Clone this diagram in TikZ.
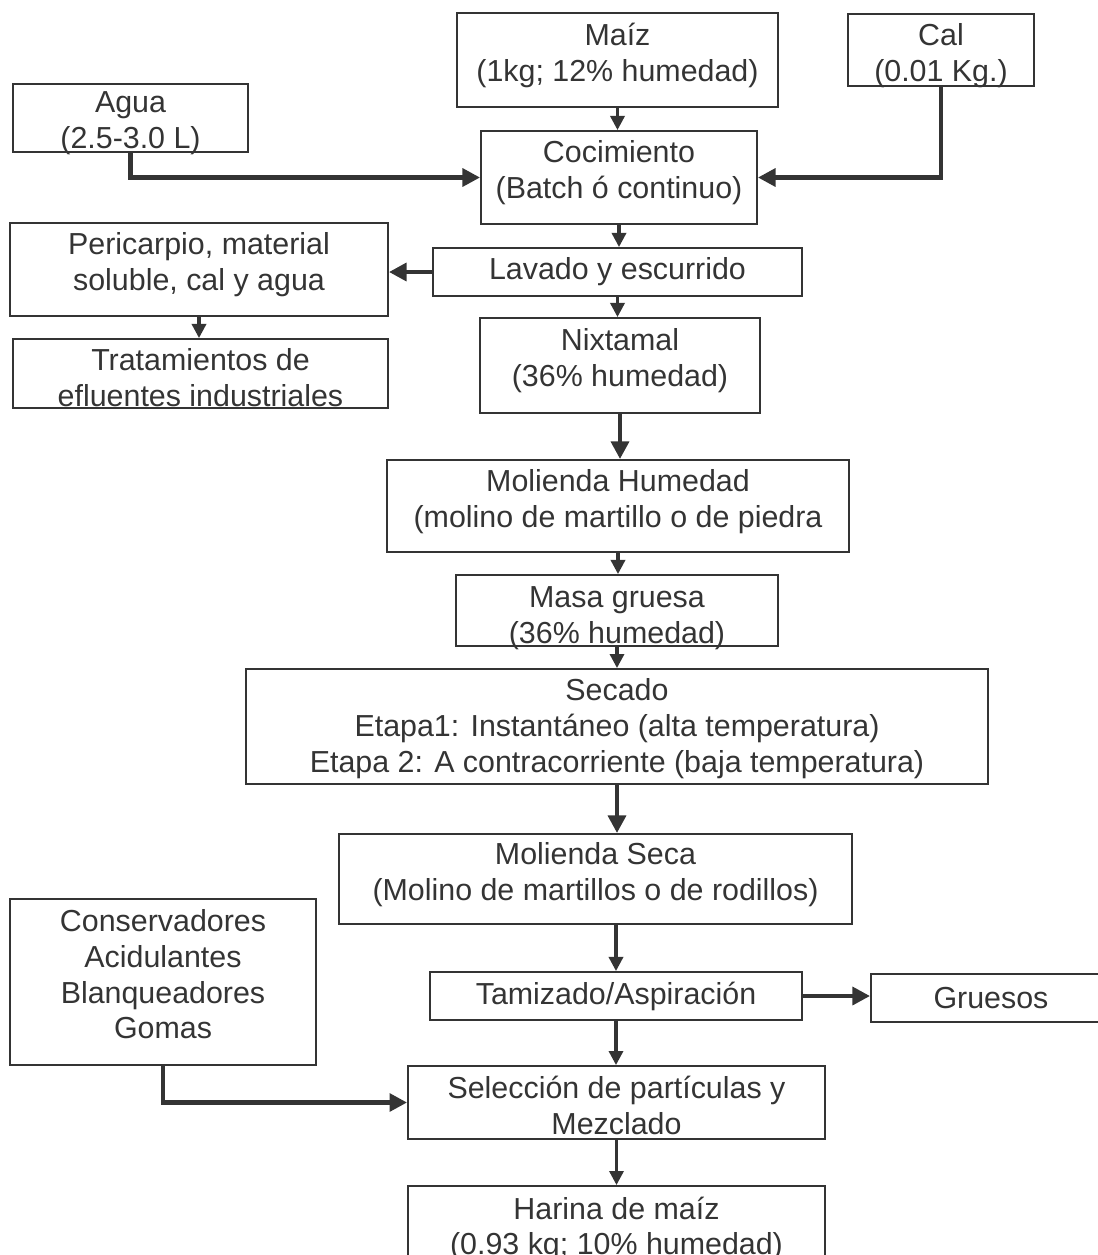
\documentclass[tikz,border=0pt]{standalone}
\usepackage{fontspec}
\setmainfont{Liberation Sans}
\usetikzlibrary{arrows.meta}

\definecolor{ink}{RGB}{52,52,52}
\newcommand{\tallline}[1]{\rule{0pt}{#1}}

\begin{document}
\begin{tikzpicture}[
    x=0.02cm, y=-0.02cm,
    stage/.style={rectangle, draw=ink, line width=1.1pt, inner sep=0pt, align=center, text=ink, font=\fontsize{17.3}{20.4}\selectfont},
    lift/.style={text depth=#1},
    flow/.style={draw=ink, line width=1.8pt, -{Triangle[length=8pt,width=8pt]}},
    feed/.style={draw=ink, line width=2.6pt, -{Triangle[length=10pt,width=10pt]}}
]
\useasboundingbox (0,0) rectangle (1098,1255);

% Inputs
\node[stage, lift=9pt, minimum width=6.42cm, minimum height=1.88cm] (maiz) at (617.5,60) {Maíz\\(1kg; 12\% humedad)};
\node[stage, lift=0pt, minimum width=3.72cm, minimum height=1.44cm] (cal) at (941,50) {\tallline{15.3pt}Cal\\(0.01 Kg.)};
\node[stage, lift=0pt, minimum width=4.70cm, minimum height=1.36cm] (agua) at (130.5,118) {\tallline{14.3pt}Agua\\(2.5-3.0 L)};

% Main line
\node[stage, lift=9pt, minimum width=5.52cm, minimum height=1.86cm] (cocim) at (619,177.5) {Cocimiento\\(Batch ó continuo)};
\node[stage, minimum width=7.38cm, minimum height=0.96cm] (lavado) at (617.5,272) {Lavado y escurrido};
\node[stage, lift=9pt, minimum width=5.60cm, minimum height=1.90cm] (nixt) at (620,365.5) {Nixtamal\\(36\% humedad)};
\node[stage, lift=9pt, minimum width=9.24cm, minimum height=1.84cm] (molh) at (618,506) {Molienda Humedad\\(molino de martillo o de piedra};
\node[stage, lift=0pt, minimum width=6.44cm, minimum height=1.42cm] (masa) at (617,610.5) {\tallline{17.3pt}Masa gruesa\\(36\% humedad)};
\node[stage, minimum width=14.84cm, minimum height=2.30cm] (secado) at (617,726.5) {\tallline{15pt}Secado\\Etapa1: Instantáneo (alta temperatura)\\Etapa 2: A contracorriente (baja temperatura)};
\node[stage, lift=9pt, minimum width=10.26cm, minimum height=1.80cm] (mols) at (595.5,879) {Molienda Seca\\(Molino de martillos o de rodillos)};
\node[stage, minimum width=7.44cm, minimum height=0.96cm] (tam) at (616,996) {Tamizado/Aspiración};
\node[stage, minimum width=8.34cm, minimum height=1.46cm] (sel) at (616.5,1102.5) {\tallline{16.5pt}Selección de partículas y\\Mezclado};
\node[stage, minimum width=8.34cm, minimum height=1.72cm] (har) at (616.5,1229) {Harina de maíz\\(0.93 kg; 10\% humedad)};

% Side boxes
\node[stage, lift=9pt, minimum width=7.56cm, minimum height=1.86cm] (peric) at (199,269.5) {Pericarpio, material\\soluble, cal y agua};
\node[stage, minimum width=7.50cm, minimum height=1.38cm] (trat) at (200.5,373.5) {\tallline{17.5pt}Tratamientos de\\efluentes industriales};
\node[stage, lift=9pt, minimum width=6.12cm, minimum height=3.32cm] (cons) at (163,982) {Conservadores\\Acidulantes\\Blanqueadores\\Gomas};
\node[stage, minimum width=4.80cm, minimum height=0.96cm] (grue) at (991,998) {Gruesos};

% Main flow
\foreach \a/\b in {maiz/cocim, cocim/lavado, lavado/nixt, molh/masa, masa/secado, tam/sel, sel/har} {
    \draw[flow] (\a.south) -- (\a.south |- \b.north);
}
\draw[feed] (nixt.south) -- (nixt.south |- molh.north);
\draw[feed] (secado.south) -- (secado.south |- mols.north);
\draw[flow] (tam.north |- mols.south) -- (tam.north);

% Side streams
\draw[feed] (agua.south) |- (cocim.west);
\draw[feed] (cal.south) |- (cocim.east);
\draw[feed] (lavado.west) -- (lavado.west -| peric.east);
\draw[flow] (peric.south) -- (peric.south |- trat.north);
\draw[feed] (tam.east) -- (tam.east -| grue.west);
\draw[feed] (cons.south) |- (sel.west);

\end{tikzpicture}
\end{document}
